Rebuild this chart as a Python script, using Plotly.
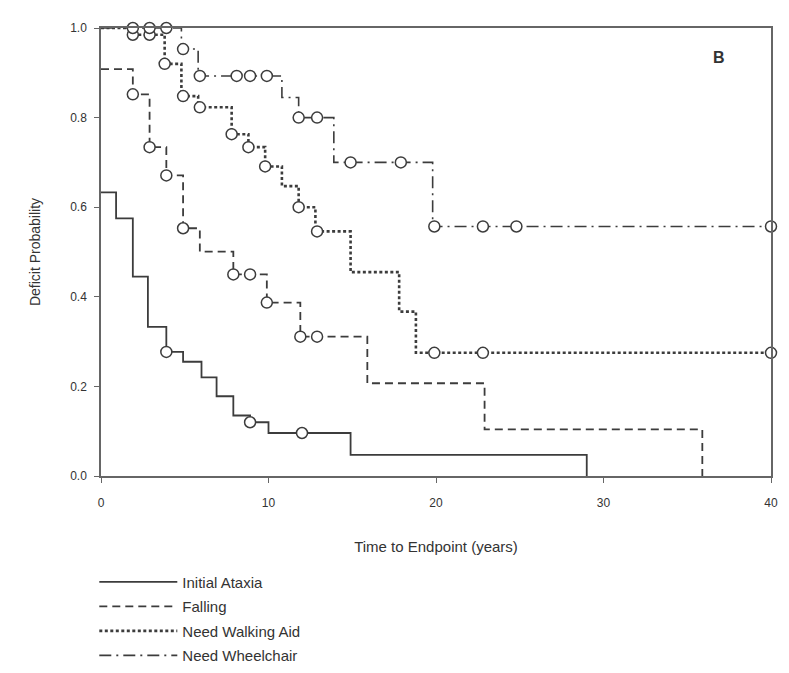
import plotly.graph_objects as go

# ---- data ----
ataxia_t = [0, 0.9, 1.9, 2.8, 3.9, 4.9, 6.0, 6.9, 7.9, 8.9, 10.0, 14.9, 29.0]
ataxia_s = [0.633, 0.575, 0.445, 0.333, 0.277, 0.255, 0.22, 0.178, 0.135, 0.12, 0.096, 0.047, 0.0]
ataxia_c = [3.9, 8.9, 12.0]

falling_t = [0, 1.9, 2.9, 3.9, 4.9, 5.9, 7.9, 9.9, 11.9, 15.9, 22.9, 35.9]
falling_s = [0.908, 0.852, 0.734, 0.671, 0.553, 0.501, 0.450, 0.387, 0.311, 0.207, 0.104, 0.0]
falling_c = [1.9, 2.9, 3.9, 4.9, 7.9, 8.9, 9.9, 11.9, 12.9]

walk_t = [0, 1.8, 3.8, 4.8, 5.8, 7.8, 8.8, 9.8, 10.8, 11.8, 12.8, 14.9, 17.8, 18.8, 40]
walk_s = [1.0, 0.985, 0.92, 0.848, 0.823, 0.763, 0.734, 0.691, 0.647, 0.60, 0.546, 0.455, 0.367, 0.275, 0.275]
walk_c = [1.9, 2.9, 3.8, 4.9, 5.9, 7.8, 8.8, 9.8, 11.8, 12.9, 19.9, 22.8, 40]

wheel_t = [0, 4.8, 5.8, 10.8, 11.8, 13.9, 19.8, 40]
wheel_s = [1.0, 0.953, 0.893, 0.845, 0.80, 0.70, 0.557, 0.557]
wheel_c = [1.9, 2.9, 3.9, 4.9, 5.9, 8.1, 8.9, 9.9, 11.8, 12.9, 14.9, 17.9, 19.9, 22.8, 24.8, 40]

names = ["Initial Ataxia", "Falling", "Need Walking Aid", "Need Wheelchair"]
x_ticks = [0, 10, 20, 30, 40]
y_ticks = [0.0, 0.2, 0.4, 0.6, 0.8, 1.0]

LINE = "#3c3c3c"
FONT = "Liberation Sans, Arial, sans-serif"


def step_value(ts, ss, tc):
    v = ss[0]
    for t, s in zip(ts, ss):
        if t <= tc:
            v = s
    return v


series = [
    (names[0], ataxia_t, ataxia_s, ataxia_c, "solid", 1.8),
    (names[1], falling_t, falling_s, falling_c, "8px,5px", 1.8),
    (names[2], walk_t, walk_s, walk_c, "3px,2.5px", 2.6),
    (names[3], wheel_t, wheel_s, wheel_c, "12px,5px,2px,5px", 1.6),
]

fig = go.Figure()
for i, (name, ts, ss, cs, dash, w) in enumerate(series):
    fig.add_trace(go.Scatter(
        x=ts, y=ss, mode="lines", name=name, line_shape="hv", legendgroup=f"g{i}",
        line=dict(color=LINE, width=w, dash=dash), cliponaxis=False,
    ))
for name, ts, ss, cs, dash, w in series:
    fig.add_trace(go.Scatter(
        x=cs, y=[step_value(ts, ss, c) for c in cs], mode="markers",
        showlegend=False, cliponaxis=False,
        marker=dict(symbol="circle", size=11, color="white",
                    line=dict(color=LINE, width=1.5)),
    ))

axis_common = dict(
    showline=True, linecolor="#666", linewidth=1.5, mirror=True, automargin=False,
    ticks="outside", ticklen=5, tickcolor="#666", showgrid=False, zeroline=False,
    tickfont=dict(family=FONT, size=12, color="#333"),
)
fig.update_xaxes(range=[0, 40], tickvals=x_ticks, ticklabelstandoff=10, **axis_common,
                 title=dict(text="Time to Endpoint (years)",
                            font=dict(family=FONT, size=15, color="#333"), standoff=32))
fig.update_yaxes(range=[0, 1.0], tickvals=y_ticks, tickformat=".1f", ticklabelstandoff=5,
                 **axis_common,
                 title=dict(text="Deficit Probability",
                            font=dict(family=FONT, size=14, color="#333"), standoff=26))

fig.add_annotation(x=0.935, y=0.958, xref="paper", yref="paper", text="<b>B</b>",
                   showarrow=False, font=dict(family=FONT, size=16, color="#333"))

fig.update_layout(
    width=789, height=673, plot_bgcolor="white", paper_bgcolor="white",
    margin=dict(l=101, r=18, t=28, b=197, autoexpand=False),
    legend=dict(x=-0.01, y=-0.2, xanchor="left", yanchor="top",
                font=dict(family=FONT, size=15, color="#333"),
                itemwidth=78, tracegroupgap=2, bgcolor="rgba(0,0,0,0)"),
)

fig.write_html("out.html")
